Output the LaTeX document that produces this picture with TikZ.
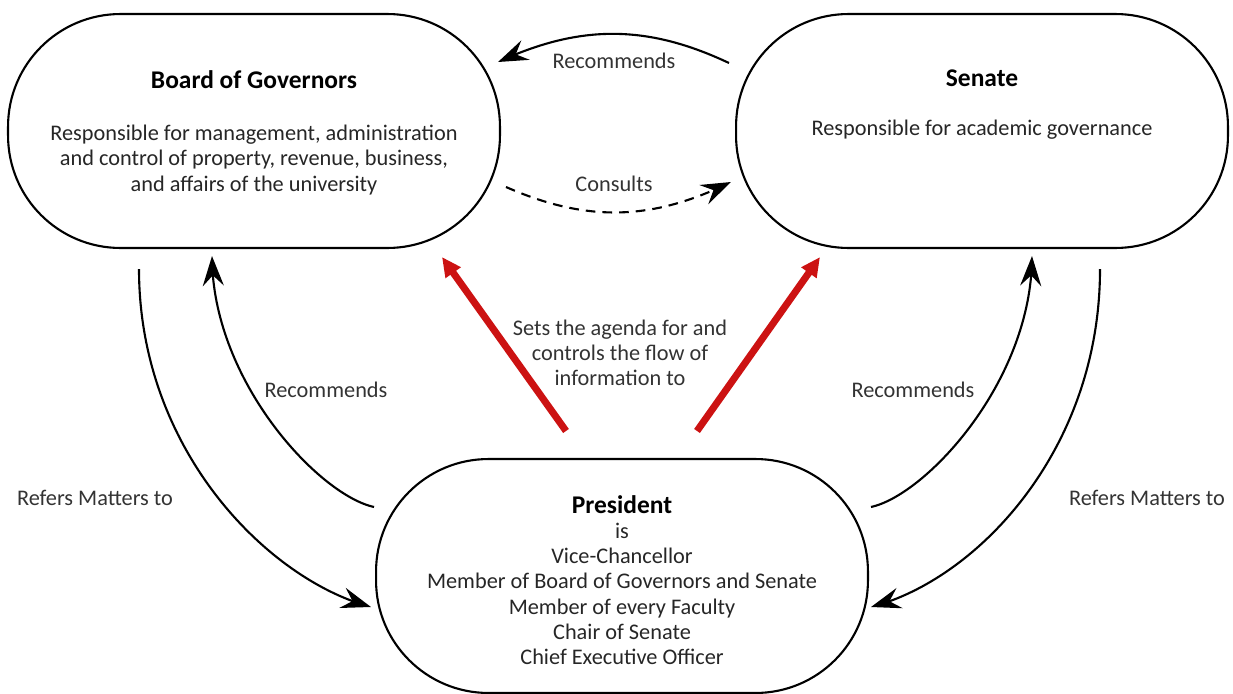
\documentclass[tikz,border=0pt]{standalone}
\usepackage{fontspec}
\setmainfont{Carlito}
\usetikzlibrary{arrows.meta, bending}
\definecolor{agenda}{RGB}{204,18,18}

\begin{document}
\begin{tikzpicture}[
    x=0.02cm, y=-0.02cm,
    font=\fontsize{12.7}{14.4}\selectfont,
    body/.style={draw=black, line width=1.2pt, rounded corners=2.25cm, minimum width=9.84cm, minimum height=4.68cm},
    head/.style={font=\fontsize{14.5}{16}\selectfont\bfseries},
    info/.style={align=center, text=black!85},
    tag/.style={text=black!80},
    link/.style={-{Stealth[length=17pt, width=12pt, inset=6pt]}, line width=1.2pt},
    push/.style={-{Triangle[length=11pt, width=10pt]}, line width=4pt, agenda}
]
    \useasboundingbox (0,0) rectangle (1233,693);

    % --- Bodies ---
    \node[body] (bog) at (254,131) {};
    \node[body] (sen) at (982,131) {};
    \node[body] (pres) at (622,576) {};

    % --- Texts inside the bodies ---
    \node[head] (bogT) at (254,80) {Board of Governors};
    \node[info] (bogI) at (254,160) {Responsible for management, administration\\and control of property, revenue, business,\\and affairs of the university};
    \node[head] (senT) at (982,78) {Senate};
    \node[info] (senI) at (982,130) {Responsible for academic governance};
    \node[head] (presT) at (622,505) {President};
    \node[info] (presI) at (622,594) {is\\Vice-Chancellor\\Member of Board of Governors and Senate\\Member of every Faculty\\Chair of Senate\\Chief Executive Officer};

    % --- Between Board and Senate ---
    \draw[link] ([shift={(-6,-68)}]sen.west) to[bend right=25] ([shift={(-3,-69)}]bog.east);
    \draw[link, dashed, dash pattern=on 5.5pt off 4pt] ([shift={(5,56)}]bog.east) to[bend right=25] ([shift={(-4,51)}]sen.west);

    % --- President to both bodies (red) ---
    \draw[push] ([shift={(-56,-27)}]pres.north) -- ([shift={(188,8)}]bog.south);
    \draw[push] ([shift={(75,-27)}]pres.north) -- ([shift={(-162,8)}]sen.south);

    % --- Recommends / Refers ---
    \draw[link] ([shift={(-1,-69)}]pres.west) .. controls +(-55,-12) and +(0,125) .. ([shift={(-42,7)}]bog.south);
    \draw[link] ([shift={(2,-69)}]pres.east) .. controls +(55,-12) and +(0,125) .. ([shift={(50,7)}]sen.south);
    \draw[link] ([shift={(-115,20)}]bog.south) .. controls +(0,182) and +(-102,-27) .. ([shift={(-4,31)}]pres.west);
    \draw[link] ([shift={(118,20)}]sen.south) .. controls +(0,182) and +(105,-27) .. ([shift={(2,31)}]pres.east);

    % --- Labels ---
    \foreach \x/\y [count=\i] in {614/61, 326/390, 913/390} {
        \node[tag] (rec\i) at (\x,\y) {Recommends};
    }
    \node[tag] (cons) at (614,184) {Consults};
    \node[tag, align=center] (flow) at (620,353) {Sets the agenda for and\\controls the flow of\\information to};
    \node[tag] (refL) at (95,498) {Refers Matters to};
    \node[tag] (refR) at (1147,498) {Refers Matters to};
\end{tikzpicture}
\end{document}
